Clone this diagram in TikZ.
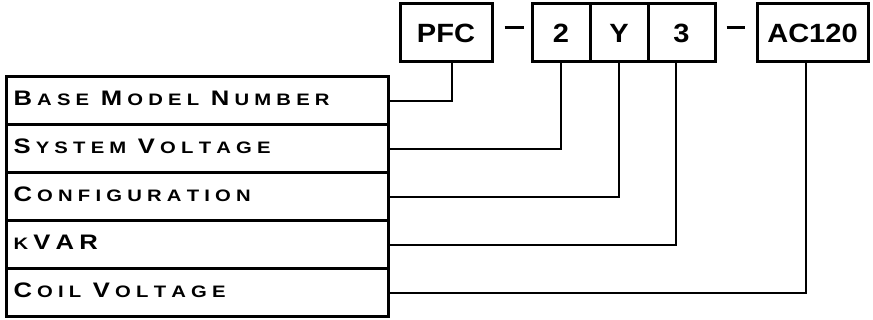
\documentclass[tikz,border=0pt]{standalone}
\usepackage{fontspec}
\setmainfont{Liberation Sans}
\newfontfamily\rowfont[FakeStretch=1.22]{Liberation Sans}
\newfontfamily\fieldfont[FakeStretch=1.1]{Liberation Sans}
\newlength{\lsp}
\setlength{\lsp}{2.6pt}
\makeatletter
\newcommand{\spc}[1]{\@tfor\@ch:=#1\do{\@ch\kern\lsp}}
\makeatother
\newcommand{\capl}[1]{{\fontsize{10.5}{12}\selectfont\spc{#1}}}
\newcommand{\gap}{\hspace{3.2pt}}

\begin{document}
\begin{tikzpicture}[x=0.5pt,y=-0.5pt]

\tikzstyle{field}=[rectangle,draw=black,line width=1.5pt,minimum height=29pt,inner sep=0pt,font=\fieldfont\bfseries\fontsize{13.2}{15}\selectfont]
\tikzstyle{row}=[rectangle,draw=black,line width=1.5pt,minimum height=24pt,text width=184pt,text depth=3pt,inner xsep=3.5pt,inner ysep=0pt,align=left,font=\rowfont\bfseries\fontsize{8.3}{9}\selectfont]
\tikzstyle{link}=[line width=1pt]
\tikzstyle{sepline}=[line width=1.5pt]
\useasboundingbox (0,0) rectangle (873,320);

\node[field,minimum width=46pt] (pfc) at (446,33) {PFC};
\node[field,minimum width=29pt] (sys) at (561,33) {2};
\node[field,minimum width=29pt] (cfg) at (619,33) {Y};
\node[field,minimum width=33.5pt] (kvar) at (681.5,33) {3};
\node[field,minimum width=55.5pt] (coil) at (812.5,33) {AC120};
\draw[sepline] ([xshift=5.5pt,yshift=2.5pt]pfc.east) -- ++(9.5pt,0);
\draw[sepline] ([xshift=5pt,yshift=2.5pt]kvar.east) -- ++(9pt,0);

\node[row] (rbase) at (197.5,101) {\capl{B}\spc{ASE}\gap\capl{M}\spc{ODEL}\gap\capl{N}\spc{UMBER}};
\node[row] (rsys) at (197.5,149) {\capl{S}\spc{YSTEM}\gap\capl{V}\spc{OLTAGE}};
\node[row] (rcfg) at (197.5,197) {\capl{C}\spc{ONFIGURATION}};
\node[row] (rkvar) at (197.5,245) {\spc{K}\capl{VAR}};
\node[row] (rcoil) at (197.5,293) {\capl{C}\spc{OIL}\gap\capl{V}\spc{OLTAGE}};

\draw[link] (rbase.east) -| ([xshift=3pt]pfc.south);
\draw[link] (rsys.east) -| (sys.south);
\draw[link] (rcfg.east) -| (cfg.south);
\draw[link] (rkvar.east) -| ([xshift=-2.75pt]kvar.south);
\draw[link] (rcoil.east) -| ([xshift=-3.25pt]coil.south);
\end{tikzpicture}
\end{document}
